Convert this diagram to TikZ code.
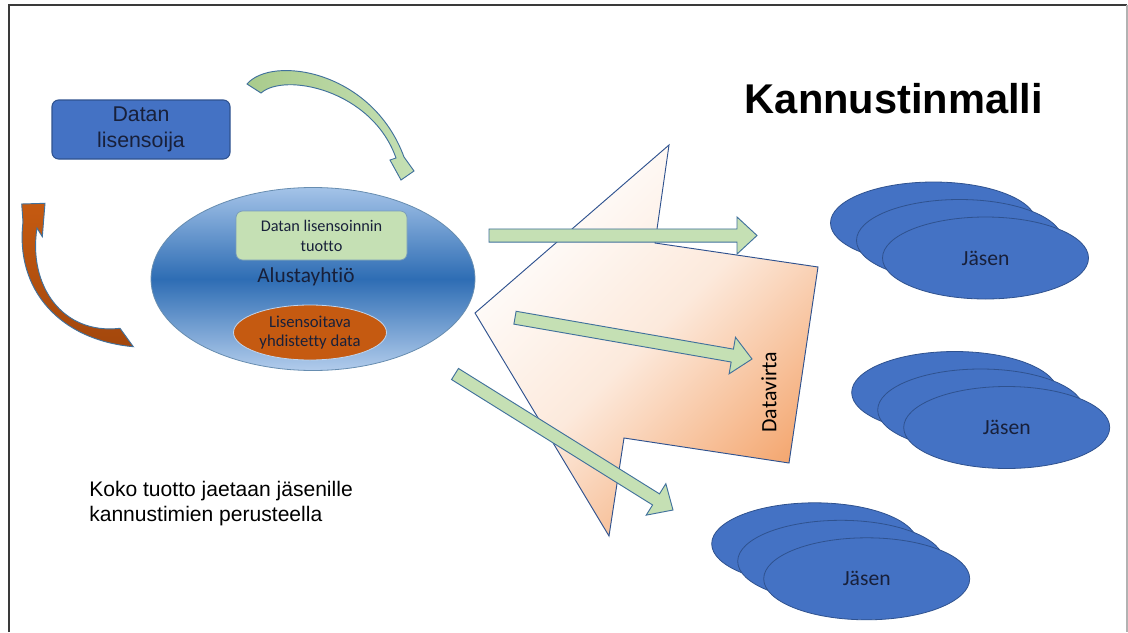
\documentclass[tikz,border=0pt]{standalone}
\usepackage{fontspec}
\setmainfont{Liberation Sans}
\newfontfamily\calibri[Ligatures=NoCommon]{Carlito}
\usetikzlibrary{calc,shapes.geometric}

\definecolor{offblue}{HTML}{4472C4}
\definecolor{blueline}{HTML}{2F528F}
\definecolor{greyblue}{HTML}{41719C}
\definecolor{paleblue}{HTML}{A4C3E8}
\definecolor{midblue}{HTML}{2E6DB4}
\definecolor{lightgreen}{HTML}{C5E0B4}
\definecolor{leafgreen}{HTML}{A9CB8C}
\definecolor{rust}{HTML}{C55A11}
\definecolor{darkrust}{HTML}{A3470C}
\definecolor{peach}{HTML}{F4A872}
\definecolor{inkblue}{HTML}{18203A}
\definecolor{framegrey}{HTML}{3A3A3A}

% block arrow from coordinate #1 to tip #2
\newcommand\blockarrow[2]{%
  \path ($(#2)!15pt!(#1)$) coordinate (#2-neck);
  \draw[flatarrow]
    ($(#1)!4.9pt!90:(#2)$) -- ($(#2-neck)!4.9pt!90:(#2)$) --
    ($(#2-neck)!13.9pt!90:(#2)$) -- (#2) --
    ($(#2-neck)!13.9pt!-90:(#2)$) -- ($(#2-neck)!4.9pt!-90:(#2)$) --
    ($(#1)!4.9pt!-90:(#2)$) -- cycle;
}

% stack of three member ellipses, front one centred at #2
\newcommand\memberstack[3]{%
  \node[member] (#1-back) at ($(#2)+(-52,-35)$) {};
  \node[member] (#1-mid) at ($(#2)+(-26,-17.5)$) {};
  \node[member] (#1) at (#2) {#3};
}

\begin{document}
\begin{tikzpicture}[x=0.75pt,y=-0.75pt,
  licbox/.style={draw=blueline, line width=0.8pt, fill=offblue, rounded corners=5pt,
    minimum width=133.5pt, minimum height=44.25pt, align=center, inner sep=0pt,
    text=inkblue, font=\fontsize{16}{19}\selectfont},
  platform/.style={ellipse, draw=greyblue!80, line width=0.6pt,
    top color=paleblue, bottom color=paleblue!85, middle color=midblue,
    minimum width=243pt, minimum height=137.25pt, inner sep=0pt},
  revbox/.style={draw=greyblue!70, line width=0.6pt, fill=lightgreen, rounded corners=5pt,
    minimum width=128.25pt, minimum height=36.75pt, align=center, inner sep=0pt,
    text=inkblue, font=\calibri\fontsize{12.2}{15}\selectfont},
  dataell/.style={ellipse, draw=paleblue!70, line width=0.6pt, fill=rust,
    minimum width=114.75pt, minimum height=41.25pt, inner sep=0pt, align=center,
    text=inkblue, font=\calibri\fontsize{12.5}{13.7}\selectfont},
  member/.style={ellipse, draw=blueline, line width=0.6pt, fill=offblue,
    minimum width=154.5pt, minimum height=61.5pt, inner sep=0pt,
    text=inkblue, font=\calibri\fontsize{16.2}{19}\selectfont},
  flatarrow/.style={draw=greyblue, line width=0.7pt, fill=lightgreen, line join=miter},
  flowshape/.style={draw=blueline, line width=0.7pt, top color=white, bottom color=peach,
    middle color=peach!25, shading angle=45},
  bendgreen/.style={draw=greyblue, line width=0.7pt, left color=leafgreen, right color=lightgreen},
  bendrust/.style={draw=greyblue, line width=0.7pt, top color=rust, bottom color=darkrust},
  plain/.style={inner sep=0pt, text=black}
]
\useasboundingbox (0,0) rectangle (1128,632);
\fill[white] (0,0) rectangle (1128,632);

% page frame
\draw[framegrey, line width=1.8pt] (9,632) -- (9,5) -- (1127,5);
\draw[black!30, line width=0.8pt] (1127,5) -- (1127,632);

% title
\node[plain, anchor=base, font=\bfseries\fontsize{31.2}{36}\selectfont] (title) at (894,113) {Kannustinmalli};

% data licensor
\node[licbox] (lis) at (141,129.5) {Datan\\lisensoija};

% platform company with its contents
\node[platform] (alusta) at (313,279) {};
\node[revbox] (rev) at (321.5,235.5) {Datan lisensoinnin\\tuotto};
\node[plain, text=inkblue, font=\calibri\fontsize{16}{19}\selectfont] (alabel) at (306,277) {Alustayhtiö};
\node[dataell] (lic) at (310,332.5) {Lisensoitava\\yhdistetty data};

% curved arrow from licensor to platform
\draw[bendgreen] (247,84) .. controls (272,55) and (372,70) .. (404,157)
  -- (414,171) -- (401,180) -- (390,160) -- (396,158)
  .. controls (372,90) and (285,72) .. (261,93) -- cycle;

% curved arrow from platform back to licensor
\draw[bendrust] (21.7,204) -- (45,203.3) -- (42.3,236.7) -- (37,228)
  .. controls (28,285) and (62,335) .. (120,328.3)
  -- (133.3,346.7)
  .. controls (60,340) and (15,290) .. (23,222) -- cycle;

% data flow shape
\draw[flowshape] (475,313) -- (669,145) -- (655,243) -- (818,267) -- (789,463)
  -- (624,438) -- (609,536) -- cycle;
\node[plain, rotate=90, font=\calibri\fontsize{16.4}{19}\selectfont] (flow) at (769,392) {Datavirta};

% distribution arrows
\coordinate (a1s) at (489,235.5);
\coordinate (a1e) at (757,235.5);
\coordinate (a2s) at (515,317.7);
\coordinate (a2e) at (752,359);
\coordinate (a3s) at (455,374);
\coordinate (a3e) at (673,510);
\blockarrow{a1s}{a1e}
\blockarrow{a2s}{a2e}
\blockarrow{a3s}{a3e}

% members
\memberstack{m1}{985.5,258}{Jäsen}
\memberstack{m2}{1006.7,427.5}{Jäsen}
\memberstack{m3}{866.7,578.8}{Jäsen}

% note
\node[plain, anchor=west, align=left, font=\fontsize{15.8}{18.75}\selectfont] (note) at (89,504)
  {Koko tuotto jaetaan jäsenille\\kannustimien perusteella};
\end{tikzpicture}
\end{document}
